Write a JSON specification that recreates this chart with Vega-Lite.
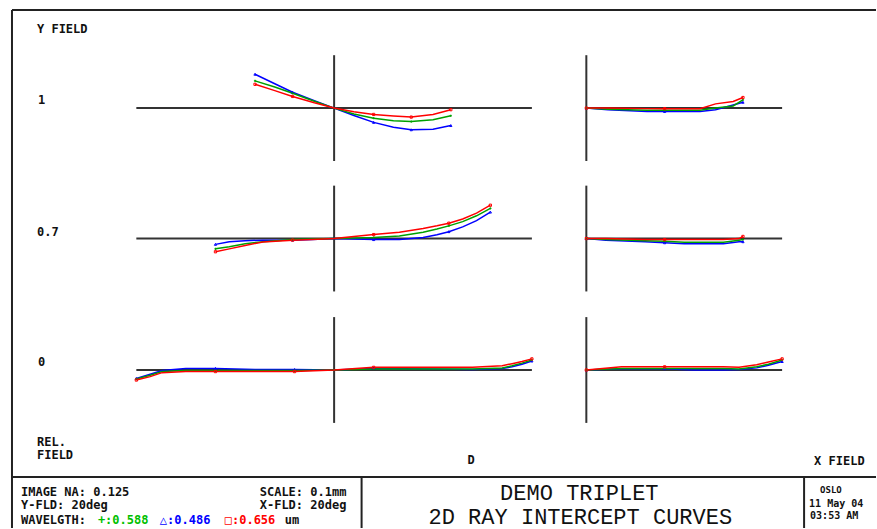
{
"$schema": "https://vega.github.io/schema/vega-lite/v6.json",
"width": 877, "height": 529, "padding": 0,
"autosize": {"type": "fit", "contains": "padding"},
"background": "white",
"config": {"view": {"stroke": null}},
"datasets": {
"curves": [
{"panel":"T","field":1,"wl":"0.486","pupil":-0.40,"dy":0.064},
{"panel":"T","field":1,"wl":"0.486","pupil":-0.30,"dy":0.046},
{"panel":"T","field":1,"wl":"0.486","pupil":-0.21,"dy":0.030},
{"panel":"T","field":1,"wl":"0.486","pupil":-0.10,"dy":0.014},
{"panel":"T","field":1,"wl":"0.486","pupil":0,"dy":0},
{"panel":"T","field":1,"wl":"0.486","pupil":0.10,"dy":-0.014},
{"panel":"T","field":1,"wl":"0.486","pupil":0.20,"dy":-0.027},
{"panel":"T","field":1,"wl":"0.486","pupil":0.30,"dy":-0.036},
{"panel":"T","field":1,"wl":"0.486","pupil":0.39,"dy":-0.041},
{"panel":"T","field":1,"wl":"0.486","pupil":0.50,"dy":-0.040},
{"panel":"T","field":1,"wl":"0.486","pupil":0.59,"dy":-0.033},
{"panel":"T","field":1,"wl":"0.588","pupil":-0.40,"dy":0.0515},
{"panel":"T","field":1,"wl":"0.588","pupil":-0.30,"dy":0.040},
{"panel":"T","field":1,"wl":"0.588","pupil":-0.21,"dy":0.028},
{"panel":"T","field":1,"wl":"0.588","pupil":-0.10,"dy":0.013},
{"panel":"T","field":1,"wl":"0.588","pupil":0,"dy":0},
{"panel":"T","field":1,"wl":"0.588","pupil":0.10,"dy":-0.011},
{"panel":"T","field":1,"wl":"0.588","pupil":0.20,"dy":-0.019},
{"panel":"T","field":1,"wl":"0.588","pupil":0.30,"dy":-0.024},
{"panel":"T","field":1,"wl":"0.588","pupil":0.39,"dy":-0.0255},
{"panel":"T","field":1,"wl":"0.588","pupil":0.50,"dy":-0.022},
{"panel":"T","field":1,"wl":"0.588","pupil":0.59,"dy":-0.0145},
{"panel":"T","field":1,"wl":"0.656","pupil":-0.40,"dy":0.045},
{"panel":"T","field":1,"wl":"0.656","pupil":-0.30,"dy":0.033},
{"panel":"T","field":1,"wl":"0.656","pupil":-0.21,"dy":0.022},
{"panel":"T","field":1,"wl":"0.656","pupil":-0.10,"dy":0.010},
{"panel":"T","field":1,"wl":"0.656","pupil":0,"dy":0},
{"panel":"T","field":1,"wl":"0.656","pupil":0.10,"dy":-0.007},
{"panel":"T","field":1,"wl":"0.656","pupil":0.20,"dy":-0.012},
{"panel":"T","field":1,"wl":"0.656","pupil":0.30,"dy":-0.015},
{"panel":"T","field":1,"wl":"0.656","pupil":0.39,"dy":-0.017},
{"panel":"T","field":1,"wl":"0.656","pupil":0.50,"dy":-0.012},
{"panel":"T","field":1,"wl":"0.656","pupil":0.59,"dy":-0.003},

{"panel":"T","field":0.7,"wl":"0.486","pupil":-0.60,"dy":-0.011},
{"panel":"T","field":0.7,"wl":"0.486","pupil":-0.53,"dy":-0.006},
{"panel":"T","field":0.7,"wl":"0.486","pupil":-0.45,"dy":-0.004},
{"panel":"T","field":0.7,"wl":"0.486","pupil":-0.36,"dy":-0.003},
{"panel":"T","field":0.7,"wl":"0.486","pupil":-0.21,"dy":-0.003},
{"panel":"T","field":0.7,"wl":"0.486","pupil":-0.11,"dy":-0.002},
{"panel":"T","field":0.7,"wl":"0.486","pupil":0,"dy":0},
{"panel":"T","field":0.7,"wl":"0.486","pupil":0.10,"dy":-0.001},
{"panel":"T","field":0.7,"wl":"0.486","pupil":0.20,"dy":-0.002},
{"panel":"T","field":0.7,"wl":"0.486","pupil":0.33,"dy":-0.002},
{"panel":"T","field":0.7,"wl":"0.486","pupil":0.45,"dy":0.002},
{"panel":"T","field":0.7,"wl":"0.486","pupil":0.52,"dy":0.007},
{"panel":"T","field":0.7,"wl":"0.486","pupil":0.58,"dy":0.013},
{"panel":"T","field":0.7,"wl":"0.486","pupil":0.65,"dy":0.022},
{"panel":"T","field":0.7,"wl":"0.486","pupil":0.72,"dy":0.034},
{"panel":"T","field":0.7,"wl":"0.486","pupil":0.79,"dy":0.050},
{"panel":"T","field":0.7,"wl":"0.588","pupil":-0.60,"dy":-0.0195},
{"panel":"T","field":0.7,"wl":"0.588","pupil":-0.53,"dy":-0.0155},
{"panel":"T","field":0.7,"wl":"0.588","pupil":-0.45,"dy":-0.010},
{"panel":"T","field":0.7,"wl":"0.588","pupil":-0.36,"dy":-0.006},
{"panel":"T","field":0.7,"wl":"0.588","pupil":-0.21,"dy":-0.002},
{"panel":"T","field":0.7,"wl":"0.588","pupil":-0.11,"dy":-0.001},
{"panel":"T","field":0.7,"wl":"0.588","pupil":0,"dy":0},
{"panel":"T","field":0.7,"wl":"0.588","pupil":0.10,"dy":0.001},
{"panel":"T","field":0.7,"wl":"0.588","pupil":0.20,"dy":0.002},
{"panel":"T","field":0.7,"wl":"0.588","pupil":0.33,"dy":0.005},
{"panel":"T","field":0.7,"wl":"0.588","pupil":0.45,"dy":0.012},
{"panel":"T","field":0.7,"wl":"0.588","pupil":0.52,"dy":0.018},
{"panel":"T","field":0.7,"wl":"0.588","pupil":0.58,"dy":0.024},
{"panel":"T","field":0.7,"wl":"0.588","pupil":0.65,"dy":0.032},
{"panel":"T","field":0.7,"wl":"0.588","pupil":0.72,"dy":0.043},
{"panel":"T","field":0.7,"wl":"0.588","pupil":0.79,"dy":0.057},
{"panel":"T","field":0.7,"wl":"0.656","pupil":-0.60,"dy":-0.025},
{"panel":"T","field":0.7,"wl":"0.656","pupil":-0.53,"dy":-0.0195},
{"panel":"T","field":0.7,"wl":"0.656","pupil":-0.45,"dy":-0.013},
{"panel":"T","field":0.7,"wl":"0.656","pupil":-0.36,"dy":-0.0065},
{"panel":"T","field":0.7,"wl":"0.656","pupil":-0.21,"dy":-0.003},
{"panel":"T","field":0.7,"wl":"0.656","pupil":-0.11,"dy":-0.002},
{"panel":"T","field":0.7,"wl":"0.656","pupil":0,"dy":0},
{"panel":"T","field":0.7,"wl":"0.656","pupil":0.10,"dy":0.004},
{"panel":"T","field":0.7,"wl":"0.656","pupil":0.20,"dy":0.0075},
{"panel":"T","field":0.7,"wl":"0.656","pupil":0.33,"dy":0.012},
{"panel":"T","field":0.7,"wl":"0.656","pupil":0.45,"dy":0.019},
{"panel":"T","field":0.7,"wl":"0.656","pupil":0.52,"dy":0.024},
{"panel":"T","field":0.7,"wl":"0.656","pupil":0.58,"dy":0.029},
{"panel":"T","field":0.7,"wl":"0.656","pupil":0.65,"dy":0.037},
{"panel":"T","field":0.7,"wl":"0.656","pupil":0.72,"dy":0.048},
{"panel":"T","field":0.7,"wl":"0.656","pupil":0.79,"dy":0.063},

{"panel":"T","field":0,"wl":"0.486","pupil":-1,"dy":-0.016},
{"panel":"T","field":0,"wl":"0.486","pupil":-0.93,"dy":-0.008},
{"panel":"T","field":0,"wl":"0.486","pupil":-0.87,"dy":-0.001},
{"panel":"T","field":0,"wl":"0.486","pupil":-0.75,"dy":0.003},
{"panel":"T","field":0,"wl":"0.486","pupil":-0.6,"dy":0.003},
{"panel":"T","field":0,"wl":"0.486","pupil":-0.4,"dy":0.001},
{"panel":"T","field":0,"wl":"0.486","pupil":-0.2,"dy":0.001},
{"panel":"T","field":0,"wl":"0.486","pupil":0,"dy":0},
{"panel":"T","field":0,"wl":"0.486","pupil":0.2,"dy":0.003},
{"panel":"T","field":0,"wl":"0.486","pupil":0.5,"dy":0.002},
{"panel":"T","field":0,"wl":"0.486","pupil":0.7,"dy":0.001},
{"panel":"T","field":0,"wl":"0.486","pupil":0.85,"dy":0.003},
{"panel":"T","field":0,"wl":"0.486","pupil":0.9,"dy":0.006},
{"panel":"T","field":0,"wl":"0.486","pupil":0.95,"dy":0.011},
{"panel":"T","field":0,"wl":"0.486","pupil":1,"dy":0.017},
{"panel":"T","field":0,"wl":"0.588","pupil":-1,"dy":-0.017},
{"panel":"T","field":0,"wl":"0.588","pupil":-0.93,"dy":-0.010},
{"panel":"T","field":0,"wl":"0.588","pupil":-0.87,"dy":-0.003},
{"panel":"T","field":0,"wl":"0.588","pupil":-0.75,"dy":-0.001},
{"panel":"T","field":0,"wl":"0.588","pupil":-0.6,"dy":-0.001},
{"panel":"T","field":0,"wl":"0.588","pupil":-0.4,"dy":-0.001},
{"panel":"T","field":0,"wl":"0.588","pupil":-0.2,"dy":-0.001},
{"panel":"T","field":0,"wl":"0.588","pupil":0,"dy":0},
{"panel":"T","field":0,"wl":"0.588","pupil":0.2,"dy":0.002},
{"panel":"T","field":0,"wl":"0.588","pupil":0.5,"dy":0.002},
{"panel":"T","field":0,"wl":"0.588","pupil":0.7,"dy":0.002},
{"panel":"T","field":0,"wl":"0.588","pupil":0.85,"dy":0.004},
{"panel":"T","field":0,"wl":"0.588","pupil":0.9,"dy":0.008},
{"panel":"T","field":0,"wl":"0.588","pupil":0.95,"dy":0.013},
{"panel":"T","field":0,"wl":"0.588","pupil":1,"dy":0.019},
{"panel":"T","field":0,"wl":"0.656","pupil":-1,"dy":-0.019},
{"panel":"T","field":0,"wl":"0.656","pupil":-0.93,"dy":-0.0125},
{"panel":"T","field":0,"wl":"0.656","pupil":-0.87,"dy":-0.005},
{"panel":"T","field":0,"wl":"0.656","pupil":-0.75,"dy":-0.003},
{"panel":"T","field":0,"wl":"0.656","pupil":-0.6,"dy":-0.003},
{"panel":"T","field":0,"wl":"0.656","pupil":-0.4,"dy":-0.003},
{"panel":"T","field":0,"wl":"0.656","pupil":-0.2,"dy":-0.003},
{"panel":"T","field":0,"wl":"0.656","pupil":0,"dy":0},
{"panel":"T","field":0,"wl":"0.656","pupil":0.2,"dy":0.005},
{"panel":"T","field":0,"wl":"0.656","pupil":0.5,"dy":0.005},
{"panel":"T","field":0,"wl":"0.656","pupil":0.7,"dy":0.005},
{"panel":"T","field":0,"wl":"0.656","pupil":0.85,"dy":0.008},
{"panel":"T","field":0,"wl":"0.656","pupil":0.9,"dy":0.012},
{"panel":"T","field":0,"wl":"0.656","pupil":0.95,"dy":0.016},
{"panel":"T","field":0,"wl":"0.656","pupil":1,"dy":0.021},

{"panel":"S","field":1,"wl":"0.486","pupil":0,"dy":0},
{"panel":"S","field":1,"wl":"0.486","pupil":0.11,"dy":-0.003},
{"panel":"S","field":1,"wl":"0.486","pupil":0.31,"dy":-0.0064},
{"panel":"S","field":1,"wl":"0.486","pupil":0.4,"dy":-0.0064},
{"panel":"S","field":1,"wl":"0.486","pupil":0.58,"dy":-0.0064},
{"panel":"S","field":1,"wl":"0.486","pupil":0.66,"dy":-0.003},
{"panel":"S","field":1,"wl":"0.486","pupil":0.75,"dy":0.006},
{"panel":"S","field":1,"wl":"0.486","pupil":0.8,"dy":0.011},
{"panel":"S","field":1,"wl":"0.588","pupil":0,"dy":0},
{"panel":"S","field":1,"wl":"0.588","pupil":0.11,"dy":-0.002},
{"panel":"S","field":1,"wl":"0.588","pupil":0.31,"dy":-0.004},
{"panel":"S","field":1,"wl":"0.588","pupil":0.4,"dy":-0.004},
{"panel":"S","field":1,"wl":"0.588","pupil":0.58,"dy":-0.004},
{"panel":"S","field":1,"wl":"0.588","pupil":0.66,"dy":0.0},
{"panel":"S","field":1,"wl":"0.588","pupil":0.75,"dy":0.004},
{"panel":"S","field":1,"wl":"0.588","pupil":0.8,"dy":0.0155},
{"panel":"S","field":1,"wl":"0.656","pupil":0,"dy":0},
{"panel":"S","field":1,"wl":"0.656","pupil":0.11,"dy":0},
{"panel":"S","field":1,"wl":"0.656","pupil":0.31,"dy":-0.001},
{"panel":"S","field":1,"wl":"0.656","pupil":0.4,"dy":-0.001},
{"panel":"S","field":1,"wl":"0.656","pupil":0.58,"dy":-0.001},
{"panel":"S","field":1,"wl":"0.656","pupil":0.66,"dy":0.008},
{"panel":"S","field":1,"wl":"0.656","pupil":0.75,"dy":0.0125},
{"panel":"S","field":1,"wl":"0.656","pupil":0.8,"dy":0.020},

{"panel":"S","field":0.7,"wl":"0.486","pupil":0,"dy":0},
{"panel":"S","field":0.7,"wl":"0.486","pupil":0.1,"dy":-0.003},
{"panel":"S","field":0.7,"wl":"0.486","pupil":0.3,"dy":-0.006},
{"panel":"S","field":0.7,"wl":"0.486","pupil":0.4,"dy":-0.008},
{"panel":"S","field":0.7,"wl":"0.486","pupil":0.5,"dy":-0.010},
{"panel":"S","field":0.7,"wl":"0.486","pupil":0.7,"dy":-0.010},
{"panel":"S","field":0.7,"wl":"0.486","pupil":0.78,"dy":-0.006},
{"panel":"S","field":0.7,"wl":"0.486","pupil":0.8,"dy":-0.006},
{"panel":"S","field":0.7,"wl":"0.588","pupil":0,"dy":0},
{"panel":"S","field":0.7,"wl":"0.588","pupil":0.1,"dy":-0.002},
{"panel":"S","field":0.7,"wl":"0.588","pupil":0.3,"dy":-0.004},
{"panel":"S","field":0.7,"wl":"0.588","pupil":0.4,"dy":-0.005},
{"panel":"S","field":0.7,"wl":"0.588","pupil":0.5,"dy":-0.007},
{"panel":"S","field":0.7,"wl":"0.588","pupil":0.7,"dy":-0.007},
{"panel":"S","field":0.7,"wl":"0.588","pupil":0.78,"dy":-0.003},
{"panel":"S","field":0.7,"wl":"0.588","pupil":0.8,"dy":-0.002},
{"panel":"S","field":0.7,"wl":"0.656","pupil":0,"dy":0},
{"panel":"S","field":0.7,"wl":"0.656","pupil":0.1,"dy":0},
{"panel":"S","field":0.7,"wl":"0.656","pupil":0.3,"dy":-0.002},
{"panel":"S","field":0.7,"wl":"0.656","pupil":0.4,"dy":-0.002},
{"panel":"S","field":0.7,"wl":"0.656","pupil":0.5,"dy":-0.002},
{"panel":"S","field":0.7,"wl":"0.656","pupil":0.7,"dy":-0.002},
{"panel":"S","field":0.7,"wl":"0.656","pupil":0.78,"dy":0},
{"panel":"S","field":0.7,"wl":"0.656","pupil":0.8,"dy":0.004},

{"panel":"S","field":0,"wl":"0.486","pupil":0,"dy":0},
{"panel":"S","field":0,"wl":"0.486","pupil":0.18,"dy":0.0025},
{"panel":"S","field":0,"wl":"0.486","pupil":0.4,"dy":0.0025},
{"panel":"S","field":0,"wl":"0.486","pupil":0.55,"dy":0},
{"panel":"S","field":0,"wl":"0.486","pupil":0.7,"dy":0},
{"panel":"S","field":0,"wl":"0.486","pupil":0.78,"dy":0.001},
{"panel":"S","field":0,"wl":"0.486","pupil":0.87,"dy":0.004},
{"panel":"S","field":0,"wl":"0.486","pupil":0.93,"dy":0.009},
{"panel":"S","field":0,"wl":"0.486","pupil":1,"dy":0.016},
{"panel":"S","field":0,"wl":"0.588","pupil":0,"dy":0},
{"panel":"S","field":0,"wl":"0.588","pupil":0.18,"dy":0.003},
{"panel":"S","field":0,"wl":"0.588","pupil":0.4,"dy":0.003},
{"panel":"S","field":0,"wl":"0.588","pupil":0.55,"dy":0.003},
{"panel":"S","field":0,"wl":"0.588","pupil":0.7,"dy":0.003},
{"panel":"S","field":0,"wl":"0.588","pupil":0.78,"dy":0.002},
{"panel":"S","field":0,"wl":"0.588","pupil":0.87,"dy":0.006},
{"panel":"S","field":0,"wl":"0.588","pupil":0.93,"dy":0.011},
{"panel":"S","field":0,"wl":"0.588","pupil":1,"dy":0.019},
{"panel":"S","field":0,"wl":"0.656","pupil":0,"dy":0},
{"panel":"S","field":0,"wl":"0.656","pupil":0.18,"dy":0.006},
{"panel":"S","field":0,"wl":"0.656","pupil":0.4,"dy":0.006},
{"panel":"S","field":0,"wl":"0.656","pupil":0.55,"dy":0.006},
{"panel":"S","field":0,"wl":"0.656","pupil":0.7,"dy":0.006},
{"panel":"S","field":0,"wl":"0.656","pupil":0.78,"dy":0.005},
{"panel":"S","field":0,"wl":"0.656","pupil":0.87,"dy":0.010},
{"panel":"S","field":0,"wl":"0.656","pupil":0.93,"dy":0.015},
{"panel":"S","field":0,"wl":"0.656","pupil":1,"dy":0.021}
]
},
"resolve": {"scale": {"x": "independent", "y": "independent"}},
"layer": [
{
"data": {"values": [{}]},
"layer": [
{"mark": {"type": "rule", "color": "#222222", "strokeWidth": 2}, "encoding": {"x": {"datum": 12, "type": "quantitative", "scale": {"domain": [0, 877], "nice": false, "zero": false}, "axis": null}, "y": {"datum": 10, "type": "quantitative", "scale": {"domain": [0, 529], "nice": false, "zero": false, "reverse": true}, "axis": null}, "y2": {"datum": 529}}},
{"mark": {"type": "rule", "color": "#222222", "strokeWidth": 2}, "encoding": {"x": {"datum": 12, "type": "quantitative", "scale": {"domain": [0, 877], "nice": false, "zero": false}, "axis": null}, "x2": {"datum": 877}, "y": {"datum": 10, "type": "quantitative", "scale": {"domain": [0, 529], "nice": false, "zero": false, "reverse": true}, "axis": null}}},
{"mark": {"type": "rule", "color": "#222222", "strokeWidth": 2}, "encoding": {"x": {"datum": 12, "type": "quantitative", "scale": {"domain": [0, 877], "nice": false, "zero": false}, "axis": null}, "x2": {"datum": 877}, "y": {"datum": 478, "type": "quantitative", "scale": {"domain": [0, 529], "nice": false, "zero": false, "reverse": true}, "axis": null}}},
{"mark": {"type": "rule", "color": "#222222", "strokeWidth": 2}, "encoding": {"x": {"datum": 362, "type": "quantitative", "scale": {"domain": [0, 877], "nice": false, "zero": false}, "axis": null}, "y": {"datum": 478, "type": "quantitative", "scale": {"domain": [0, 529], "nice": false, "zero": false, "reverse": true}, "axis": null}, "y2": {"datum": 529}}},
{"mark": {"type": "rule", "color": "#222222", "strokeWidth": 2}, "encoding": {"x": {"datum": 805, "type": "quantitative", "scale": {"domain": [0, 877], "nice": false, "zero": false}, "axis": null}, "y": {"datum": 478, "type": "quantitative", "scale": {"domain": [0, 529], "nice": false, "zero": false, "reverse": true}, "axis": null}, "y2": {"datum": 529}}},
{"mark": {"type": "text", "text": "Y FIELD", "align": "left", "baseline": "alphabetic", "font": "DejaVu Sans Mono", "fontSize": 12, "fontWeight": "bold", "color": "#111111"}, "encoding": {"x": {"datum": 37, "type": "quantitative", "scale": {"domain": [0, 877], "nice": false, "zero": false}, "axis": null}, "y": {"datum": 33, "type": "quantitative", "scale": {"domain": [0, 529], "nice": false, "zero": false, "reverse": true}, "axis": null}}},
{"mark": {"type": "text", "text": "1", "align": "left", "baseline": "alphabetic", "font": "DejaVu Sans Mono", "fontSize": 12, "fontWeight": "bold", "color": "#111111"}, "encoding": {"x": {"datum": 38, "type": "quantitative", "scale": {"domain": [0, 877], "nice": false, "zero": false}, "axis": null}, "y": {"datum": 104, "type": "quantitative", "scale": {"domain": [0, 529], "nice": false, "zero": false, "reverse": true}, "axis": null}}},
{"mark": {"type": "text", "text": "0.7", "align": "left", "baseline": "alphabetic", "font": "DejaVu Sans Mono", "fontSize": 12, "fontWeight": "bold", "color": "#111111"}, "encoding": {"x": {"datum": 37, "type": "quantitative", "scale": {"domain": [0, 877], "nice": false, "zero": false}, "axis": null}, "y": {"datum": 236, "type": "quantitative", "scale": {"domain": [0, 529], "nice": false, "zero": false, "reverse": true}, "axis": null}}},
{"mark": {"type": "text", "text": "0", "align": "left", "baseline": "alphabetic", "font": "DejaVu Sans Mono", "fontSize": 12, "fontWeight": "bold", "color": "#111111"}, "encoding": {"x": {"datum": 38, "type": "quantitative", "scale": {"domain": [0, 877], "nice": false, "zero": false}, "axis": null}, "y": {"datum": 367, "type": "quantitative", "scale": {"domain": [0, 529], "nice": false, "zero": false, "reverse": true}, "axis": null}}},
{"mark": {"type": "text", "text": "REL.", "align": "left", "baseline": "alphabetic", "font": "DejaVu Sans Mono", "fontSize": 12, "fontWeight": "bold", "color": "#111111"}, "encoding": {"x": {"datum": 37, "type": "quantitative", "scale": {"domain": [0, 877], "nice": false, "zero": false}, "axis": null}, "y": {"datum": 447, "type": "quantitative", "scale": {"domain": [0, 529], "nice": false, "zero": false, "reverse": true}, "axis": null}}},
{"mark": {"type": "text", "text": "FIELD", "align": "left", "baseline": "alphabetic", "font": "DejaVu Sans Mono", "fontSize": 12, "fontWeight": "bold", "color": "#111111"}, "encoding": {"x": {"datum": 37, "type": "quantitative", "scale": {"domain": [0, 877], "nice": false, "zero": false}, "axis": null}, "y": {"datum": 460, "type": "quantitative", "scale": {"domain": [0, 529], "nice": false, "zero": false, "reverse": true}, "axis": null}}},
{"mark": {"type": "text", "text": "D", "align": "left", "baseline": "alphabetic", "font": "DejaVu Sans Mono", "fontSize": 12, "fontWeight": "bold", "color": "#111111"}, "encoding": {"x": {"datum": 468, "type": "quantitative", "scale": {"domain": [0, 877], "nice": false, "zero": false}, "axis": null}, "y": {"datum": 465, "type": "quantitative", "scale": {"domain": [0, 529], "nice": false, "zero": false, "reverse": true}, "axis": null}}},
{"mark": {"type": "text", "text": "X FIELD", "align": "left", "baseline": "alphabetic", "font": "DejaVu Sans Mono", "fontSize": 12, "fontWeight": "bold", "color": "#111111"}, "encoding": {"x": {"datum": 815, "type": "quantitative", "scale": {"domain": [0, 877], "nice": false, "zero": false}, "axis": null}, "y": {"datum": 466, "type": "quantitative", "scale": {"domain": [0, 529], "nice": false, "zero": false, "reverse": true}, "axis": null}}},
{"mark": {"type": "text", "text": "IMAGE NA: 0.125", "align": "left", "baseline": "alphabetic", "font": "DejaVu Sans Mono", "fontSize": 12, "fontWeight": "bold", "color": "#111111"}, "encoding": {"x": {"datum": 21, "type": "quantitative", "scale": {"domain": [0, 877], "nice": false, "zero": false}, "axis": null}, "y": {"datum": 497, "type": "quantitative", "scale": {"domain": [0, 529], "nice": false, "zero": false, "reverse": true}, "axis": null}}},
{"mark": {"type": "text", "text": "SCALE: 0.1mm", "align": "left", "baseline": "alphabetic", "font": "DejaVu Sans Mono", "fontSize": 12, "fontWeight": "bold", "color": "#111111"}, "encoding": {"x": {"datum": 260, "type": "quantitative", "scale": {"domain": [0, 877], "nice": false, "zero": false}, "axis": null}, "y": {"datum": 497, "type": "quantitative", "scale": {"domain": [0, 529], "nice": false, "zero": false, "reverse": true}, "axis": null}}},
{"mark": {"type": "text", "text": "Y-FLD: 20deg", "align": "left", "baseline": "alphabetic", "font": "DejaVu Sans Mono", "fontSize": 12, "fontWeight": "bold", "color": "#111111"}, "encoding": {"x": {"datum": 21, "type": "quantitative", "scale": {"domain": [0, 877], "nice": false, "zero": false}, "axis": null}, "y": {"datum": 510, "type": "quantitative", "scale": {"domain": [0, 529], "nice": false, "zero": false, "reverse": true}, "axis": null}}},
{"mark": {"type": "text", "text": "X-FLD: 20deg", "align": "left", "baseline": "alphabetic", "font": "DejaVu Sans Mono", "fontSize": 12, "fontWeight": "bold", "color": "#111111"}, "encoding": {"x": {"datum": 260, "type": "quantitative", "scale": {"domain": [0, 877], "nice": false, "zero": false}, "axis": null}, "y": {"datum": 510, "type": "quantitative", "scale": {"domain": [0, 529], "nice": false, "zero": false, "reverse": true}, "axis": null}}},
{"mark": {"type": "text", "text": "WAVELGTH:", "align": "left", "baseline": "alphabetic", "font": "DejaVu Sans Mono", "fontSize": 12, "fontWeight": "bold", "color": "#111111"}, "encoding": {"x": {"datum": 21, "type": "quantitative", "scale": {"domain": [0, 877], "nice": false, "zero": false}, "axis": null}, "y": {"datum": 525, "type": "quantitative", "scale": {"domain": [0, 529], "nice": false, "zero": false, "reverse": true}, "axis": null}}},
{"mark": {"type": "text", "text": "+:0.588", "align": "left", "baseline": "alphabetic", "font": "DejaVu Sans Mono", "fontSize": 12, "fontWeight": "bold", "color": "#00c000"}, "encoding": {"x": {"datum": 98, "type": "quantitative", "scale": {"domain": [0, 877], "nice": false, "zero": false}, "axis": null}, "y": {"datum": 525, "type": "quantitative", "scale": {"domain": [0, 529], "nice": false, "zero": false, "reverse": true}, "axis": null}}},
{"mark": {"type": "text", "text": "△:0.486", "align": "left", "baseline": "alphabetic", "font": "DejaVu Sans Mono", "fontSize": 12, "fontWeight": "bold", "color": "#0000ff"}, "encoding": {"x": {"datum": 160, "type": "quantitative", "scale": {"domain": [0, 877], "nice": false, "zero": false}, "axis": null}, "y": {"datum": 525, "type": "quantitative", "scale": {"domain": [0, 529], "nice": false, "zero": false, "reverse": true}, "axis": null}}},
{"mark": {"type": "text", "text": "□:0.656", "align": "left", "baseline": "alphabetic", "font": "DejaVu Sans Mono", "fontSize": 12, "fontWeight": "bold", "color": "#ff0000"}, "encoding": {"x": {"datum": 225, "type": "quantitative", "scale": {"domain": [0, 877], "nice": false, "zero": false}, "axis": null}, "y": {"datum": 525, "type": "quantitative", "scale": {"domain": [0, 529], "nice": false, "zero": false, "reverse": true}, "axis": null}}},
{"mark": {"type": "text", "text": "um", "align": "left", "baseline": "alphabetic", "font": "DejaVu Sans Mono", "fontSize": 12, "fontWeight": "bold", "color": "#111111"}, "encoding": {"x": {"datum": 285, "type": "quantitative", "scale": {"domain": [0, 877], "nice": false, "zero": false}, "axis": null}, "y": {"datum": 525, "type": "quantitative", "scale": {"domain": [0, 529], "nice": false, "zero": false, "reverse": true}, "axis": null}}},
{"mark": {"type": "text", "text": "DEMO TRIPLET", "align": "center", "baseline": "alphabetic", "font": "Liberation Mono", "fontSize": 22, "color": "#111111"}, "encoding": {"x": {"datum": 580, "type": "quantitative", "scale": {"domain": [0, 877], "nice": false, "zero": false}, "axis": null}, "y": {"datum": 501, "type": "quantitative", "scale": {"domain": [0, 529], "nice": false, "zero": false, "reverse": true}, "axis": null}}},
{"mark": {"type": "text", "text": "2D RAY INTERCEPT CURVES", "align": "center", "baseline": "alphabetic", "font": "Liberation Mono", "fontSize": 22, "color": "#111111"}, "encoding": {"x": {"datum": 581, "type": "quantitative", "scale": {"domain": [0, 877], "nice": false, "zero": false}, "axis": null}, "y": {"datum": 525, "type": "quantitative", "scale": {"domain": [0, 529], "nice": false, "zero": false, "reverse": true}, "axis": null}}},
{"mark": {"type": "text", "text": "OSLO", "align": "left", "baseline": "alphabetic", "font": "DejaVu Sans Mono", "fontSize": 9, "fontWeight": "bold", "color": "#111111"}, "encoding": {"x": {"datum": 821, "type": "quantitative", "scale": {"domain": [0, 877], "nice": false, "zero": false}, "axis": null}, "y": {"datum": 494, "type": "quantitative", "scale": {"domain": [0, 529], "nice": false, "zero": false, "reverse": true}, "axis": null}}},
{"mark": {"type": "text", "text": "11 May 04", "align": "left", "baseline": "alphabetic", "font": "DejaVu Sans Mono", "fontSize": 10, "fontWeight": "bold", "color": "#111111"}, "encoding": {"x": {"datum": 810, "type": "quantitative", "scale": {"domain": [0, 877], "nice": false, "zero": false}, "axis": null}, "y": {"datum": 508, "type": "quantitative", "scale": {"domain": [0, 529], "nice": false, "zero": false, "reverse": true}, "axis": null}}},
{"mark": {"type": "text", "text": "03:53 AM", "align": "left", "baseline": "alphabetic", "font": "DejaVu Sans Mono", "fontSize": 10, "fontWeight": "bold", "color": "#111111"}, "encoding": {"x": {"datum": 811, "type": "quantitative", "scale": {"domain": [0, 877], "nice": false, "zero": false}, "axis": null}, "y": {"datum": 520, "type": "quantitative", "scale": {"domain": [0, 529], "nice": false, "zero": false, "reverse": true}, "axis": null}}}
]
},
{
"layer": [
{"data": {"values": [{}]}, "mark": {"type": "rule", "color": "#333333", "strokeWidth": 2}, "encoding": {"x": {"datum": -1, "type": "quantitative", "scale": {"domain": [-1.68939, 2.7399], "nice": false, "zero": false}, "axis": null}, "x2": {"datum": 1}, "y": {"datum": 0, "type": "quantitative", "scale": {"domain": [-0.79377, 0.20434], "nice": false, "zero": false}, "axis": null}}},
{"data": {"values": [{}]}, "mark": {"type": "rule", "color": "#333333", "strokeWidth": 2}, "encoding": {"x": {"datum": 0, "type": "quantitative", "scale": {"domain": [-1.68939, 2.7399], "nice": false, "zero": false}, "axis": null}, "y": {"datum": -0.1, "type": "quantitative", "scale": {"domain": [-0.79377, 0.20434], "nice": false, "zero": false}, "axis": null}, "y2": {"datum": 0.1}}},
{"data": {"name": "curves"}, "transform": [{"filter": "datum.panel == 'T' && datum.field == 1"}], "mark": {"type": "line", "strokeWidth": 1.5}, "encoding": {"x": {"field": "pupil", "type": "quantitative", "scale": {"domain": [-1.68939, 2.7399], "nice": false, "zero": false}, "axis": null}, "y": {"field": "dy", "type": "quantitative", "scale": {"domain": [-0.79377, 0.20434], "nice": false, "zero": false}, "axis": null}, "color": {"field": "wl", "type": "nominal", "scale": {"domain": ["0.486", "0.588", "0.656"], "range": ["#0000ff", "#00a000", "#ff0000"]}, "legend": null}}},
{"data": {"name": "curves"}, "transform": [{"filter": "datum.panel == 'T' && datum.field == 1 && indexof([-0.4, -0.21, 0.2, 0.39, 0.59], datum.pupil) >= 0"}], "mark": {"type": "point", "filled": false, "size": 5, "strokeWidth": 1, "opacity": 1}, "encoding": {"x": {"field": "pupil", "type": "quantitative", "scale": {"domain": [-1.68939, 2.7399], "nice": false, "zero": false}, "axis": null}, "y": {"field": "dy", "type": "quantitative", "scale": {"domain": [-0.79377, 0.20434], "nice": false, "zero": false}, "axis": null}, "color": {"field": "wl", "type": "nominal", "scale": {"domain": ["0.486", "0.588", "0.656"], "range": ["#0000ff", "#00a000", "#ff0000"]}, "legend": null}, "shape": {"field": "wl", "type": "nominal", "scale": {"domain": ["0.486", "0.588", "0.656"], "range": ["triangle-up", "M-1,0L1,0M0,-1L0,1", "square"]}, "legend": null}}}
]
},
{
"layer": [
{"data": {"values": [{}]}, "mark": {"type": "rule", "color": "#333333", "strokeWidth": 2}, "encoding": {"x": {"datum": -1, "type": "quantitative", "scale": {"domain": [-1.68939, 2.7399], "nice": false, "zero": false}, "axis": null}, "x2": {"datum": 1}, "y": {"datum": 0, "type": "quantitative", "scale": {"domain": [-0.54717, 0.45094], "nice": false, "zero": false}, "axis": null}}},
{"data": {"values": [{}]}, "mark": {"type": "rule", "color": "#333333", "strokeWidth": 2}, "encoding": {"x": {"datum": 0, "type": "quantitative", "scale": {"domain": [-1.68939, 2.7399], "nice": false, "zero": false}, "axis": null}, "y": {"datum": -0.1, "type": "quantitative", "scale": {"domain": [-0.54717, 0.45094], "nice": false, "zero": false}, "axis": null}, "y2": {"datum": 0.1}}},
{"data": {"name": "curves"}, "transform": [{"filter": "datum.panel == 'T' && datum.field == 0.7"}], "mark": {"type": "line", "strokeWidth": 1.5}, "encoding": {"x": {"field": "pupil", "type": "quantitative", "scale": {"domain": [-1.68939, 2.7399], "nice": false, "zero": false}, "axis": null}, "y": {"field": "dy", "type": "quantitative", "scale": {"domain": [-0.54717, 0.45094], "nice": false, "zero": false}, "axis": null}, "color": {"field": "wl", "type": "nominal", "scale": {"domain": ["0.486", "0.588", "0.656"], "range": ["#0000ff", "#00a000", "#ff0000"]}, "legend": null}}},
{"data": {"name": "curves"}, "transform": [{"filter": "datum.panel == 'T' && datum.field == 0.7 && indexof([-0.6, -0.21, 0.2, 0.58, 0.79], datum.pupil) >= 0"}], "mark": {"type": "point", "filled": false, "size": 5, "strokeWidth": 1, "opacity": 1}, "encoding": {"x": {"field": "pupil", "type": "quantitative", "scale": {"domain": [-1.68939, 2.7399], "nice": false, "zero": false}, "axis": null}, "y": {"field": "dy", "type": "quantitative", "scale": {"domain": [-0.54717, 0.45094], "nice": false, "zero": false}, "axis": null}, "color": {"field": "wl", "type": "nominal", "scale": {"domain": ["0.486", "0.588", "0.656"], "range": ["#0000ff", "#00a000", "#ff0000"]}, "legend": null}, "shape": {"field": "wl", "type": "nominal", "scale": {"domain": ["0.486", "0.588", "0.656"], "range": ["triangle-up", "M-1,0L1,0M0,-1L0,1", "square"]}, "legend": null}}}
]
},
{
"layer": [
{"data": {"values": [{}]}, "mark": {"type": "rule", "color": "#333333", "strokeWidth": 2}, "encoding": {"x": {"datum": -1, "type": "quantitative", "scale": {"domain": [-1.68939, 2.7399], "nice": false, "zero": false}, "axis": null}, "x2": {"datum": 1}, "y": {"datum": 0, "type": "quantitative", "scale": {"domain": [-0.29868, 0.69943], "nice": false, "zero": false}, "axis": null}}},
{"data": {"values": [{}]}, "mark": {"type": "rule", "color": "#333333", "strokeWidth": 2}, "encoding": {"x": {"datum": 0, "type": "quantitative", "scale": {"domain": [-1.68939, 2.7399], "nice": false, "zero": false}, "axis": null}, "y": {"datum": -0.1, "type": "quantitative", "scale": {"domain": [-0.29868, 0.69943], "nice": false, "zero": false}, "axis": null}, "y2": {"datum": 0.1}}},
{"data": {"name": "curves"}, "transform": [{"filter": "datum.panel == 'T' && datum.field == 0"}], "mark": {"type": "line", "strokeWidth": 1.5}, "encoding": {"x": {"field": "pupil", "type": "quantitative", "scale": {"domain": [-1.68939, 2.7399], "nice": false, "zero": false}, "axis": null}, "y": {"field": "dy", "type": "quantitative", "scale": {"domain": [-0.29868, 0.69943], "nice": false, "zero": false}, "axis": null}, "color": {"field": "wl", "type": "nominal", "scale": {"domain": ["0.486", "0.588", "0.656"], "range": ["#0000ff", "#00a000", "#ff0000"]}, "legend": null}}},
{"data": {"name": "curves"}, "transform": [{"filter": "datum.panel == 'T' && datum.field == 0 && indexof([-1, -0.6, -0.2, 0.2, 1], datum.pupil) >= 0"}], "mark": {"type": "point", "filled": false, "size": 5, "strokeWidth": 1, "opacity": 1}, "encoding": {"x": {"field": "pupil", "type": "quantitative", "scale": {"domain": [-1.68939, 2.7399], "nice": false, "zero": false}, "axis": null}, "y": {"field": "dy", "type": "quantitative", "scale": {"domain": [-0.29868, 0.69943], "nice": false, "zero": false}, "axis": null}, "color": {"field": "wl", "type": "nominal", "scale": {"domain": ["0.486", "0.588", "0.656"], "range": ["#0000ff", "#00a000", "#ff0000"]}, "legend": null}, "shape": {"field": "wl", "type": "nominal", "scale": {"domain": ["0.486", "0.588", "0.656"], "range": ["triangle-up", "M-1,0L1,0M0,-1L0,1", "square"]}, "legend": null}}}
]
},
{
"layer": [
{"data": {"values": [{}]}, "mark": {"type": "rule", "color": "#333333", "strokeWidth": 2}, "encoding": {"x": {"datum": 0, "type": "quantitative", "scale": {"domain": [-2.9949, 1.47959], "nice": false, "zero": false}, "axis": null}, "x2": {"datum": 1}, "y": {"datum": 0, "type": "quantitative", "scale": {"domain": [-0.79377, 0.20434], "nice": false, "zero": false}, "axis": null}}},
{"data": {"values": [{}]}, "mark": {"type": "rule", "color": "#333333", "strokeWidth": 2}, "encoding": {"x": {"datum": 0, "type": "quantitative", "scale": {"domain": [-2.9949, 1.47959], "nice": false, "zero": false}, "axis": null}, "y": {"datum": -0.1, "type": "quantitative", "scale": {"domain": [-0.79377, 0.20434], "nice": false, "zero": false}, "axis": null}, "y2": {"datum": 0.1}}},
{"data": {"name": "curves"}, "transform": [{"filter": "datum.panel == 'S' && datum.field == 1"}], "mark": {"type": "line", "strokeWidth": 1.5}, "encoding": {"x": {"field": "pupil", "type": "quantitative", "scale": {"domain": [-2.9949, 1.47959], "nice": false, "zero": false}, "axis": null}, "y": {"field": "dy", "type": "quantitative", "scale": {"domain": [-0.79377, 0.20434], "nice": false, "zero": false}, "axis": null}, "color": {"field": "wl", "type": "nominal", "scale": {"domain": ["0.486", "0.588", "0.656"], "range": ["#0000ff", "#00a000", "#ff0000"]}, "legend": null}}},
{"data": {"name": "curves"}, "transform": [{"filter": "datum.panel == 'S' && datum.field == 1 && indexof([0, 0.4, 0.8], datum.pupil) >= 0"}], "mark": {"type": "point", "filled": false, "size": 5, "strokeWidth": 1, "opacity": 1}, "encoding": {"x": {"field": "pupil", "type": "quantitative", "scale": {"domain": [-2.9949, 1.47959], "nice": false, "zero": false}, "axis": null}, "y": {"field": "dy", "type": "quantitative", "scale": {"domain": [-0.79377, 0.20434], "nice": false, "zero": false}, "axis": null}, "color": {"field": "wl", "type": "nominal", "scale": {"domain": ["0.486", "0.588", "0.656"], "range": ["#0000ff", "#00a000", "#ff0000"]}, "legend": null}, "shape": {"field": "wl", "type": "nominal", "scale": {"domain": ["0.486", "0.588", "0.656"], "range": ["triangle-up", "M-1,0L1,0M0,-1L0,1", "square"]}, "legend": null}}}
]
},
{
"layer": [
{"data": {"values": [{}]}, "mark": {"type": "rule", "color": "#333333", "strokeWidth": 2}, "encoding": {"x": {"datum": 0, "type": "quantitative", "scale": {"domain": [-2.9949, 1.47959], "nice": false, "zero": false}, "axis": null}, "x2": {"datum": 1}, "y": {"datum": 0, "type": "quantitative", "scale": {"domain": [-0.54717, 0.45094], "nice": false, "zero": false}, "axis": null}}},
{"data": {"values": [{}]}, "mark": {"type": "rule", "color": "#333333", "strokeWidth": 2}, "encoding": {"x": {"datum": 0, "type": "quantitative", "scale": {"domain": [-2.9949, 1.47959], "nice": false, "zero": false}, "axis": null}, "y": {"datum": -0.1, "type": "quantitative", "scale": {"domain": [-0.54717, 0.45094], "nice": false, "zero": false}, "axis": null}, "y2": {"datum": 0.1}}},
{"data": {"name": "curves"}, "transform": [{"filter": "datum.panel == 'S' && datum.field == 0.7"}], "mark": {"type": "line", "strokeWidth": 1.5}, "encoding": {"x": {"field": "pupil", "type": "quantitative", "scale": {"domain": [-2.9949, 1.47959], "nice": false, "zero": false}, "axis": null}, "y": {"field": "dy", "type": "quantitative", "scale": {"domain": [-0.54717, 0.45094], "nice": false, "zero": false}, "axis": null}, "color": {"field": "wl", "type": "nominal", "scale": {"domain": ["0.486", "0.588", "0.656"], "range": ["#0000ff", "#00a000", "#ff0000"]}, "legend": null}}},
{"data": {"name": "curves"}, "transform": [{"filter": "datum.panel == 'S' && datum.field == 0.7 && indexof([0, 0.4, 0.8], datum.pupil) >= 0"}], "mark": {"type": "point", "filled": false, "size": 5, "strokeWidth": 1, "opacity": 1}, "encoding": {"x": {"field": "pupil", "type": "quantitative", "scale": {"domain": [-2.9949, 1.47959], "nice": false, "zero": false}, "axis": null}, "y": {"field": "dy", "type": "quantitative", "scale": {"domain": [-0.54717, 0.45094], "nice": false, "zero": false}, "axis": null}, "color": {"field": "wl", "type": "nominal", "scale": {"domain": ["0.486", "0.588", "0.656"], "range": ["#0000ff", "#00a000", "#ff0000"]}, "legend": null}, "shape": {"field": "wl", "type": "nominal", "scale": {"domain": ["0.486", "0.588", "0.656"], "range": ["triangle-up", "M-1,0L1,0M0,-1L0,1", "square"]}, "legend": null}}}
]
},
{
"layer": [
{"data": {"values": [{}]}, "mark": {"type": "rule", "color": "#333333", "strokeWidth": 2}, "encoding": {"x": {"datum": 0, "type": "quantitative", "scale": {"domain": [-2.9949, 1.47959], "nice": false, "zero": false}, "axis": null}, "x2": {"datum": 1}, "y": {"datum": 0, "type": "quantitative", "scale": {"domain": [-0.29868, 0.69943], "nice": false, "zero": false}, "axis": null}}},
{"data": {"values": [{}]}, "mark": {"type": "rule", "color": "#333333", "strokeWidth": 2}, "encoding": {"x": {"datum": 0, "type": "quantitative", "scale": {"domain": [-2.9949, 1.47959], "nice": false, "zero": false}, "axis": null}, "y": {"datum": -0.1, "type": "quantitative", "scale": {"domain": [-0.29868, 0.69943], "nice": false, "zero": false}, "axis": null}, "y2": {"datum": 0.1}}},
{"data": {"name": "curves"}, "transform": [{"filter": "datum.panel == 'S' && datum.field == 0"}], "mark": {"type": "line", "strokeWidth": 1.5}, "encoding": {"x": {"field": "pupil", "type": "quantitative", "scale": {"domain": [-2.9949, 1.47959], "nice": false, "zero": false}, "axis": null}, "y": {"field": "dy", "type": "quantitative", "scale": {"domain": [-0.29868, 0.69943], "nice": false, "zero": false}, "axis": null}, "color": {"field": "wl", "type": "nominal", "scale": {"domain": ["0.486", "0.588", "0.656"], "range": ["#0000ff", "#00a000", "#ff0000"]}, "legend": null}}},
{"data": {"name": "curves"}, "transform": [{"filter": "datum.panel == 'S' && datum.field == 0 && indexof([0, 0.4, 1], datum.pupil) >= 0"}], "mark": {"type": "point", "filled": false, "size": 5, "strokeWidth": 1, "opacity": 1}, "encoding": {"x": {"field": "pupil", "type": "quantitative", "scale": {"domain": [-2.9949, 1.47959], "nice": false, "zero": false}, "axis": null}, "y": {"field": "dy", "type": "quantitative", "scale": {"domain": [-0.29868, 0.69943], "nice": false, "zero": false}, "axis": null}, "color": {"field": "wl", "type": "nominal", "scale": {"domain": ["0.486", "0.588", "0.656"], "range": ["#0000ff", "#00a000", "#ff0000"]}, "legend": null}, "shape": {"field": "wl", "type": "nominal", "scale": {"domain": ["0.486", "0.588", "0.656"], "range": ["triangle-up", "M-1,0L1,0M0,-1L0,1", "square"]}, "legend": null}}}
]
}
]
}
